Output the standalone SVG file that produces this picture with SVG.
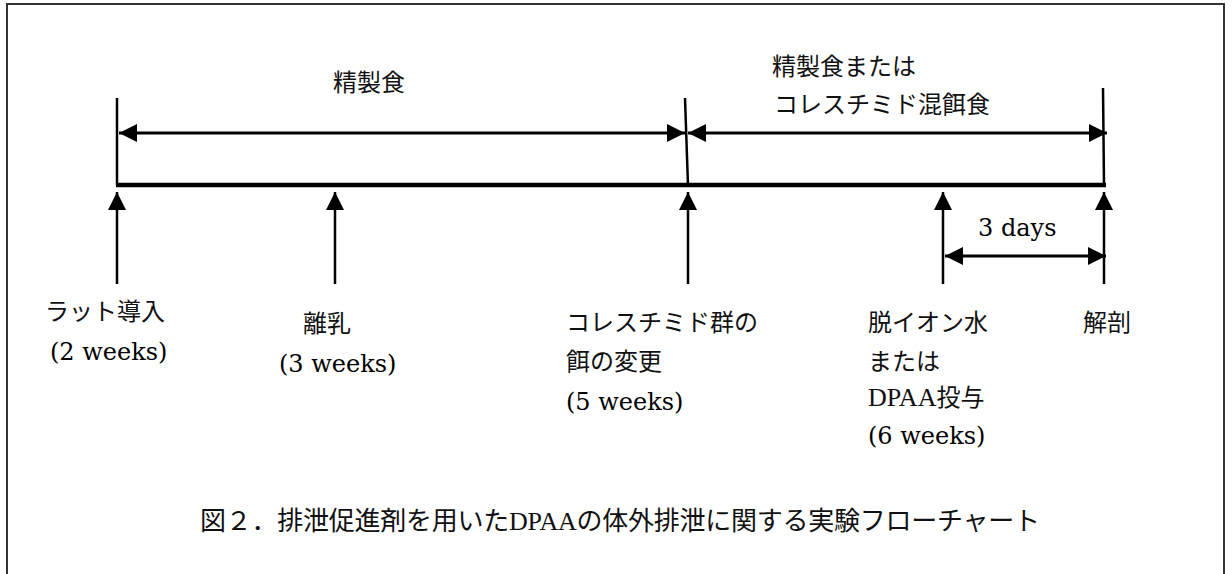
<svg xmlns="http://www.w3.org/2000/svg" width="1232" height="574" viewBox="0 0 1232 574">
<defs>
<marker id="ah" markerUnits="userSpaceOnUse" markerWidth="18" markerHeight="18" viewBox="0 0 16 16" refX="16" refY="8" orient="auto-start-reverse">
<path d="M0,0 L16,8 L0,16 Z" fill="#000"/>
</marker>
</defs>
<style>
.jp{font-family:"Liberation Serif","Noto Sans CJK JP",serif;font-size:24px;fill:#111;}
.lat{font-family:"DejaVu Serif","Liberation Serif",serif;font-size:24px;fill:#000;}
.cap{font-family:"Liberation Serif","Noto Sans CJK JP",serif;font-size:26px;fill:#111;}
.ln{stroke:#000;stroke-width:2.5;fill:none;}
.arr{stroke:#000;stroke-width:2.5;fill:none;marker-end:url(#ah);}
.darr{stroke:#000;stroke-width:3;fill:none;marker-end:url(#ah);marker-start:url(#ah);}
</style>
<rect x="0" y="0" width="1232" height="574" fill="#fff"/>
<rect x="7" y="4" width="1217" height="620" fill="none" stroke="#333" stroke-width="2"/>

<g id="connectors">
<line id="timeline" x1="116" y1="185" x2="1106" y2="185" stroke="#000" stroke-width="4.5"/>
<line class="ln" x1="117" y1="98" x2="117" y2="185"/>
<line class="ln" x1="685" y1="98" x2="688" y2="186"/>
<line class="ln" x1="1103" y1="88" x2="1104" y2="185"/>
<line class="darr" x1="119" y1="133" x2="685" y2="133"/>
<line class="darr" x1="688" y1="133" x2="1107" y2="133"/>
<line class="arr" x1="117" y1="284" x2="117" y2="192"/>
<line class="arr" x1="335" y1="284" x2="335" y2="192"/>
<line class="arr" x1="688" y1="284" x2="688" y2="192"/>
<line class="arr" x1="943" y1="284" x2="943" y2="192"/>
<line class="arr" x1="1104" y1="284" x2="1104" y2="192"/>
<line class="darr" x1="945" y1="256" x2="1106" y2="256"/>
</g>

<g id="diet1"><text class="jp" x="333" y="91">精製食</text></g>
<g id="diet2">
<text class="jp" x="772" y="75">精製食または</text>
<text class="jp" x="774" y="113">コレスチミド混餌食</text>
</g>
<g id="days"><text class="lat" x="978" y="236" font-size="26">3 days</text></g>

<g id="n1">
<text class="jp" x="45" y="320">ラット導入</text>
<text class="lat" x="50" y="360">(2 weeks)</text>
</g>
<g id="n2">
<text class="jp" x="303" y="332">離乳</text>
<text class="lat" x="279" y="372">(3 weeks)</text>
</g>
<g id="n3">
<text class="jp" x="566" y="331">コレスチミド群の</text>
<text class="jp" x="566" y="370">餌の変更</text>
<text class="lat" x="566" y="410" font-size="25">(5 weeks)</text>
</g>
<g id="n4">
<text class="jp" x="868" y="331">脱イオン水</text>
<text class="jp" x="868" y="370">または</text>
<text class="jp" x="868" y="406"><tspan font-size="26">DPAA</tspan>投与</text>
<text class="lat" x="868" y="444" font-size="28">(6 weeks)</text>
</g>
<g id="n5"><text class="jp" x="1083" y="331">解剖</text></g>

<g id="caption"><text class="cap" x="200" y="530" textLength="840">図２．排泄促進剤を用いたDPAAの体外排泄に関する実験フローチャート</text></g>
</svg>
